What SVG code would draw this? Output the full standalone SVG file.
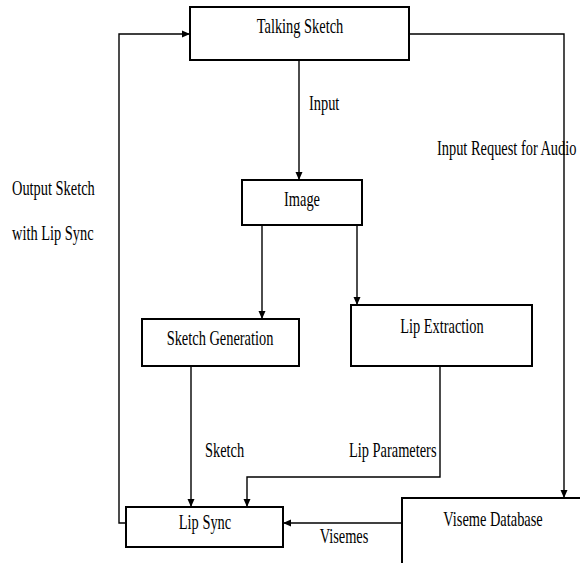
<svg xmlns="http://www.w3.org/2000/svg" width="580" height="563" viewBox="0 0 580 563">
<style>
.box{fill:#fff;stroke:#000;stroke-width:2}
.ln{fill:none;stroke:#000;stroke-width:1.4}
text{font-family:"Liberation Serif","Times New Roman",serif;font-size:14.4px;fill:#000}
.c{text-anchor:middle}
</style>
<defs>
<marker id="ah" markerUnits="userSpaceOnUse" markerWidth="9" markerHeight="8" refX="8" refY="4" orient="auto">
<path d="M0,0.5 L8,4 L0,7.5 z" fill="#000"/>
</marker>
</defs>
<rect width="580" height="563" fill="#fff"/>
<g id="connectors">
<path class="ln" d="M299,60 V180" marker-end="url(#ah)"/>
<path class="ln" d="M262,225 V319" marker-end="url(#ah)"/>
<path class="ln" d="M357,225 V305" marker-end="url(#ah)"/>
<path class="ln" d="M409,34 H564 V498" marker-end="url(#ah)"/>
<path class="ln" d="M191,366 V507" marker-end="url(#ah)"/>
<path class="ln" d="M440,366 V477 H247 V507" marker-end="url(#ah)"/>
<path class="ln" d="M402,523 H283" marker-end="url(#ah)"/>
<path class="ln" d="M126,523 H119 V34 H190" marker-end="url(#ah)"/>
<text transform="translate(309,110) scale(1,1.4)">Input</text>
<text transform="translate(437,155) scale(1,1.4)">Input Request for Audio</text>
<text transform="translate(12,195) scale(1,1.4)">Output Sketch</text>
<text transform="translate(12,240) scale(1,1.4)">with Lip Sync</text>
<text transform="translate(205,457) scale(1,1.4)">Sketch</text>
<text transform="translate(349,457) scale(1,1.4)">Lip Parameters</text>
<text class="c" transform="translate(344,543) scale(1,1.4)">Visemes</text>
</g>
<g id="talking-sketch">
<rect class="box" x="190" y="7" width="219" height="53"/>
<text class="c" transform="translate(300,33) scale(1,1.4)">Talking Sketch</text>
</g>
<g id="image">
<rect class="box" x="242" y="180" width="120" height="45"/>
<text class="c" transform="translate(302,206) scale(1,1.4)">Image</text>
</g>
<g id="sketch-generation">
<rect class="box" x="142" y="319" width="157" height="47"/>
<text class="c" transform="translate(220,345) scale(1,1.4)">Sketch Generation</text>
</g>
<g id="lip-extraction">
<rect class="box" x="351" y="305" width="181" height="61"/>
<text class="c" transform="translate(442,333) scale(1,1.4)">Lip Extraction</text>
</g>
<g id="lip-sync">
<rect class="box" x="126" y="507" width="157" height="40"/>
<text class="c" transform="translate(205,529) scale(1,1.4)">Lip Sync</text>
</g>
<g id="viseme-database">
<rect class="box" x="402" y="498" width="190" height="80"/>
<text class="c" transform="translate(493,526) scale(1,1.4)">Viseme Database</text>
</g>
</svg>
